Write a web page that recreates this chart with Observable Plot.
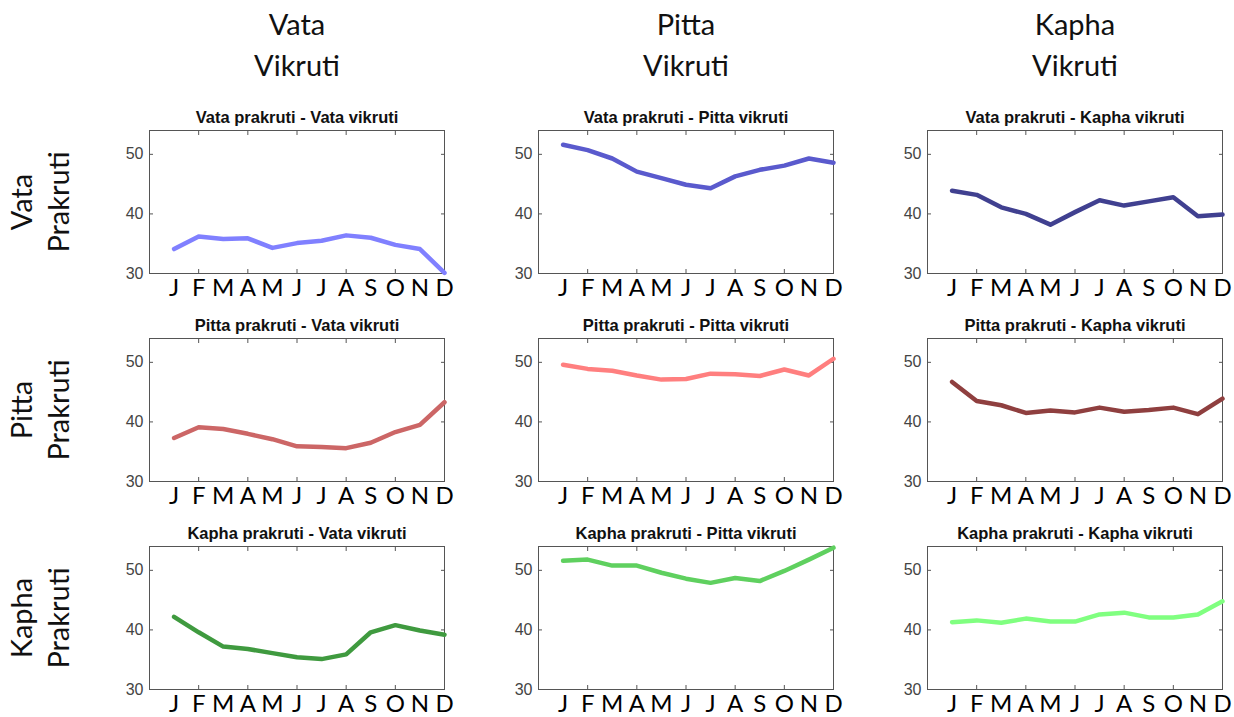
<!DOCTYPE html>
<html><head><meta charset="utf-8">
<script src="https://cdn.jsdelivr.net/npm/d3@7"></script>
<script src="https://cdn.jsdelivr.net/npm/@observablehq/plot@0.6"></script>
<style>body{margin:0;background:#fff}</style>
</head><body><div id="chart"></div>
<script>
const months = ["J","F","M","A","M","J","J","A","S","O","N","D"];
const prakruti = ["Vata","Pitta","Kapha"];
const vikruti = ["Vata","Pitta","Kapha"];
const yTicks = [30, 40, 50];

const vataVata   = [34.1, 36.2, 35.8, 35.9, 34.3, 35.1, 35.5, 36.4, 36.0, 34.8, 34.1, 30.1];
const vataPitta  = [51.6, 50.7, 49.3, 47.1, 46.0, 44.9, 44.3, 46.3, 47.4, 48.1, 49.3, 48.6];
const vataKapha  = [43.9, 43.2, 41.1, 40.0, 38.2, 40.3, 42.3, 41.4, 42.1, 42.8, 39.6, 39.9];
const pittaVata  = [37.3, 39.1, 38.8, 38.0, 37.1, 35.9, 35.8, 35.6, 36.5, 38.3, 39.5, 43.3];
const pittaPitta = [49.6, 48.9, 48.6, 47.8, 47.1, 47.2, 48.1, 48.0, 47.7, 48.8, 47.8, 50.6];
const pittaKapha = [46.7, 43.5, 42.8, 41.5, 41.9, 41.6, 42.4, 41.7, 42.0, 42.4, 41.3, 43.9];
const kaphaVata  = [42.2, 39.6, 37.2, 36.8, 36.1, 35.4, 35.1, 35.9, 39.6, 40.8, 39.9, 39.2];
const kaphaPitta = [51.6, 51.8, 50.8, 50.8, 49.6, 48.6, 47.9, 48.7, 48.2, 49.9, 51.8, 53.8];
const kaphaKapha = [41.3, 41.6, 41.2, 41.9, 41.4, 41.4, 42.6, 42.9, 42.1, 42.1, 42.6, 44.8];

const panelValues = [
  [vataVata, vataPitta, vataKapha],
  [pittaVata, pittaPitta, pittaKapha],
  [kaphaVata, kaphaPitta, kaphaKapha]
];
const panelColors = [
  ["#8080ff", "#5a5acd", "#404090"],
  ["#cc6666", "#ff7f7f", "#8f3f3f"],
  ["#3f9a3f", "#5fd05f", "#80ff80"]
];

const keys = [], colors = [], titles = [], data = [];
prakruti.forEach((p, r) => vikruti.forEach((v, c) => {
  const key = p + "-" + v;
  keys.push(key); colors.push(panelColors[r][c]);
  titles.push({prakruti: p, vikruti: v, title: `${p} prakruti - ${v} vikruti`});
  panelValues[r][c].forEach((value, i) => data.push({prakruti: p, vikruti: v, key, month: i + 1, value}));
}));

const frameColor = "#555";
const chart = Plot.plot({
  width: 1234, height: 717,
  marginLeft: 149, marginRight: 12, marginTop: 129, marginBottom: 26,
  style: {fontFamily: "'Liberation Sans', Arial, sans-serif", background: "#fff"},
  fx: {domain: vikruti, paddingInner: 0.242, paddingOuter: 0},
  fy: {domain: prakruti, paddingInner: 0.311, paddingOuter: 0},
  x: {domain: [0, 12]},
  y: {domain: [30, 54]},
  color: {domain: keys, range: colors},
  marks: [
    Plot.frame({stroke: frameColor, strokeWidth: 1}),
    Plot.axisX({anchor: "bottom", ticks: [2,4,6,8,10], tickSize: -4, tickFormat: () => "", facetAnchor: null, label: null, stroke: frameColor}),
    Plot.axisX({anchor: "top", ticks: [2,4,6,8,10], tickSize: -4, tickFormat: () => "", facetAnchor: null, label: null, stroke: frameColor}),
    Plot.axisX({anchor: "bottom", ticks: d3.range(1, 13), tickSize: 0, tickPadding: 5, tickFormat: d => months[d - 1], facetAnchor: null, label: null, fontSize: 24, fontFamily: "Lato", fill: "#000"}),
    Plot.axisY({anchor: "left", ticks: yTicks, tickSize: -4, tickFormat: () => "", facetAnchor: null, label: null, stroke: frameColor}),
    Plot.axisY({anchor: "right", ticks: yTicks, tickSize: -4, tickFormat: () => "", facetAnchor: null, label: null, stroke: frameColor}),
    Plot.axisY({anchor: "left", ticks: yTicks, tickSize: 0, tickPadding: 6, facetAnchor: null, label: null, fontSize: 16, fill: "#444"}),
    Plot.axisFx({anchor: "top", tickSize: 0, tickPadding: 55, fontSize: 29, lineHeight: 1.4, fontFamily: "Lato", fill: "#111", tickFormat: d => d + "\nVikruti", label: null}),
    Plot.axisFy({anchor: "left", tickRotate: -90, tickSize: 0, tickPadding: 81, fontSize: 29, lineHeight: 1.25, fontFamily: "Lato", fill: "#111", tickFormat: d => d + "\nPrakruti", label: null}),
    Plot.text(titles, {fx: "vikruti", fy: "prakruti", text: "title", frameAnchor: "top", lineAnchor: "middle", dy: -13, fontWeight: "bold", fontSize: 16.5, fill: "#111"}),
    Plot.line(data, {fx: "vikruti", fy: "prakruti", x: "month", y: "value", stroke: "key", strokeWidth: 4.5})
  ]
});
document.getElementById("chart").append(chart);
</script>
</body></html>
